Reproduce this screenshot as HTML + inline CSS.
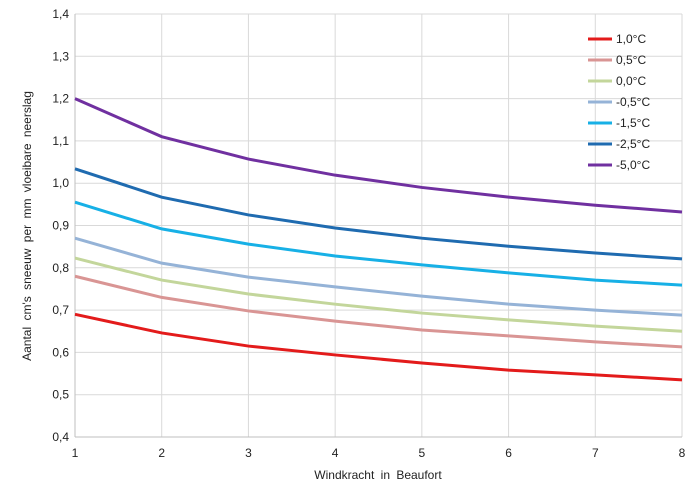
<!DOCTYPE html>
<html><head><meta charset="utf-8">
<style>
body{margin:0;background:#fff;}
svg text{font-family:"Liberation Sans",sans-serif;font-size:12px;fill:#222;}
</style></head>
<body>
<svg id="chart" width="698" height="492" xmlns="http://www.w3.org/2000/svg">
<g id="grid"></g><g id="series"></g><g id="legend"></g>
<text x="378" y="479" text-anchor="middle" word-spacing="3">Windkracht in Beaufort</text>
<text transform="translate(31,226) rotate(-90)" text-anchor="middle" word-spacing="3">Aantal cm's sneeuw per mm vloeibare neerslag</text>
</svg>
<script>
const xCategories=[1,2,3,4,5,6,7,8];
const yTicks=[0.4,0.5,0.6,0.7,0.8,0.9,1.0,1.1,1.2,1.3,1.4];
const seriesNames=["1,0°C","0,5°C","0,0°C","-0,5°C","-1,5°C","-2,5°C","-5,0°C"];
const seriesColors=["#e31b1b","#d99594","#c3d69b","#95b3d7","#17b0e6","#1f6bb0","#7030a0"];
const s1=[0.69,0.646,0.615,0.594,0.575,0.558,0.547,0.535];
const s2=[0.78,0.73,0.698,0.674,0.653,0.639,0.625,0.613];
const s3=[0.823,0.771,0.738,0.714,0.693,0.677,0.662,0.65];
const s4=[0.87,0.811,0.778,0.755,0.733,0.714,0.7,0.688];
const s5=[0.955,0.892,0.856,0.828,0.807,0.788,0.771,0.759];
const s6=[1.034,0.967,0.925,0.894,0.87,0.851,0.835,0.821];
const s7=[1.2,1.11,1.057,1.019,0.99,0.967,0.948,0.932];
const seriesValues=[s1,s2,s3,s4,s5,s6,s7];
const NS="http://www.w3.org/2000/svg";
const X0=75,X1=682,Y0=437,Y1=14;
const xs=v=>X0+(v-1)/7*(X1-X0);
const ys=v=>Y0-(v-0.4)/1.0*(Y0-Y1);
function mk(t,a,p){const e=document.createElementNS(NS,t);for(const k in a)e.setAttribute(k,a[k]);p.appendChild(e);return e;}
const grid=document.getElementById('grid');
yTicks.forEach(v=>{
 const l=mk('line',{x1:X0,x2:X1,y1:ys(v),y2:ys(v),stroke:'#d9d9d9'},grid);
 
 
 const t=mk('text',{x:X0-6,y:ys(v)+4,'text-anchor':'end'},grid);t.textContent=v.toFixed(1).replace('.',',');
 
 
});
xCategories.forEach(c=>{
 const l=mk('line',{x1:xs(c),x2:xs(c),y1:Y1,y2:Y0,stroke:'#d9d9d9'},grid);
 
 
 const t=mk('text',{x:xs(c),y:Y0+20,'text-anchor':'middle'},grid);t.textContent=c;
 
 
});
const ax=mk('line',{x1:X0,x2:X0,y1:Y1,y2:Y0,stroke:'#bfbfbf'},grid);


const ax2=mk('line',{x1:X0,x2:X1,y1:Y0,y2:Y0,stroke:'#bfbfbf'},grid);


const sg=document.getElementById('series'),lg=document.getElementById('legend');
seriesValues.forEach((vals,i)=>{
 const d=vals.map((v,j)=>(j?'L':'M')+xs(xCategories[j])+','+ys(v)).join(' ');
 const p=mk('path',{d:d,fill:'none',stroke:seriesColors[i],'stroke-width':3},sg);
 
 
 const y=39+i*21;
 const ll=mk('line',{x1:588,x2:612,y1:y,y2:y,stroke:seriesColors[i],'stroke-width':3},lg);
 
 
 const t=mk('text',{x:616,y:y+4},lg);t.textContent=seriesNames[i];
 
 
});
</script>
</body></html>
